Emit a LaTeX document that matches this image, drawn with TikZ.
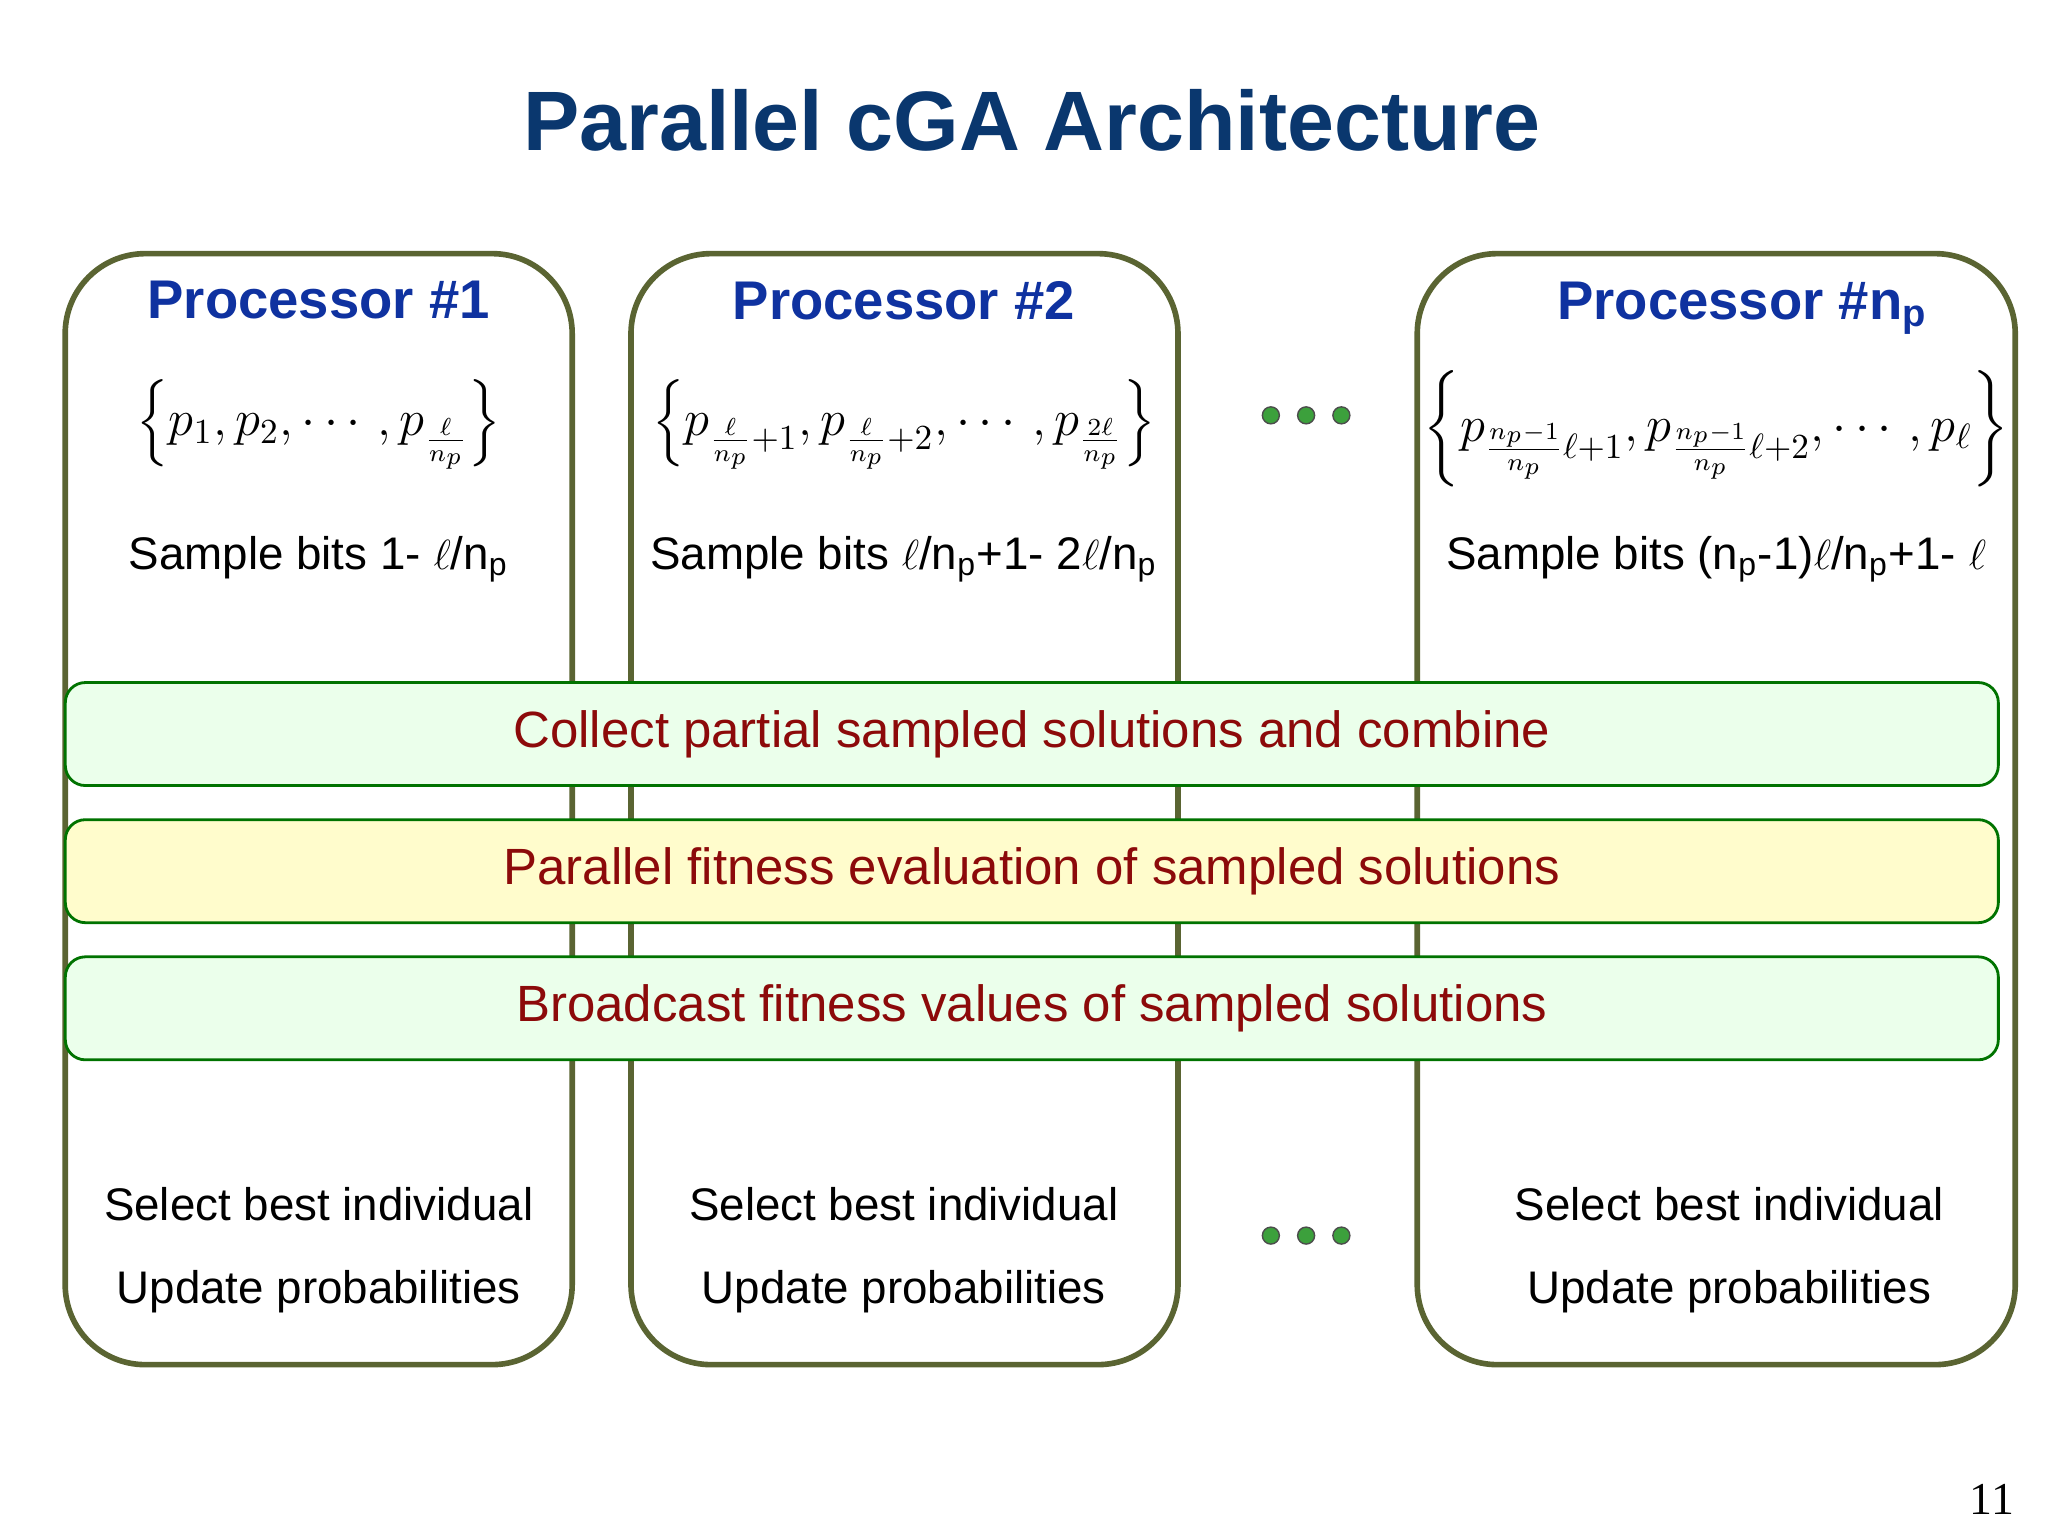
\documentclass[tikz,border=0pt]{standalone}
\usepackage{amsmath, amssymb}
\usepackage{fontspec}
\setmainfont{Liberation Sans}
\newfontfamily\pagefont{Liberation Serif}
\usepackage{xcolor}
\usetikzlibrary{positioning}
\definecolor{titleblue}{RGB}{10,55,110}
\definecolor{procblue}{RGB}{15,50,160}
\definecolor{bandred}{RGB}{140,10,10}
\definecolor{olive}{RGB}{90,100,50}
\definecolor{dotgreen}{RGB}{60,160,60}
\begin{document}
\begin{tikzpicture}[
x=0.01306cm, y=-0.01306cm,
proc/.style={draw=olive, line width=1.6pt, rounded corners=0.8cm, minimum height=11.11cm},
band/.style={draw=green!45!black, line width=0.8pt, rounded corners=0.2cm, minimum width=19.33cm, minimum height=1.03cm, font=\fontsize{14.5}{16}\selectfont, text=bandred},
head/.style={font=\fontsize{15.5}{18}\selectfont\bfseries, text=procblue},
body/.style={font=\fontsize{13}{15}\selectfont},
mth/.style={font=\fontsize{13.8}{16}\selectfont},
dot/.style={circle, fill=dotgreen, draw=black!70, inner sep=0pt, minimum size=0.17cm}
]
\fill[white] (0,0) rectangle (1568,1175);
\node[font=\fontsize{24}{29}\selectfont\bfseries, text=titleblue] (title) at (790,92) {Parallel cGA Architecture};

% ====== Processors ======
\node[proc, minimum width=5.07cm] (box1) at (244,619.5) {};
\node[proc, minimum width=5.47cm] (box2) at (692.5,619.5) {};
\node[proc, minimum width=5.98cm] (box3) at (1314,619.5) {};

\node[head] (head1) at (244,230) {Processor \#1};
\node[head] (head2) at (692,230) {Processor \#2};
\node[head] (head3) at (1334,236) {Processor \#n$_\text{p}$};

\node[mth] (set1) at (244,325) {$\left\{p_1,p_2,\cdots,p_{\frac{\ell}{n_p}}\right\}$};
\node[mth] (set2) at (692,325) {$\left\{p_{\frac{\ell}{n_p}+1},p_{\frac{\ell}{n_p}+2},\cdots,p_{\frac{2\ell}{n_p}}\right\}$};
\node[mth] (set3) at (1314,328) {$\left\{p_{\frac{n_p-1}{n_p}\ell+1},p_{\frac{n_p-1}{n_p}\ell+2},\cdots,p_\ell\right\}$};

\node[body] (bits1) at (244,428) {Sample bits 1- $\ell$/n$_\text{p}$};
\node[body] (bits2) at (692,428) {Sample bits $\ell$/n$_\text{p}$+1- 2$\ell$/n$_\text{p}$};
\node[body] (bits3) at (1314,428) {Sample bits (n$_\text{p}$-1)$\ell$/n$_\text{p}$+1- $\ell$};

\foreach \i/\x in {1/244, 2/692, 3/1324} {
  \node[body] (sel\i) at (\x,922) {Select best individual};
  \node[body] (upd\i) at (\x,989) {Update probabilities};
}

% ====== Bands ======
\node[band, fill=green!8] (collect) at (790,562) {Collect partial sampled solutions and combine};
\node[band, fill=yellow!20] (eval) at (790,667) {Parallel fitness evaluation of sampled solutions};
\node[band, fill=green!8] (bcast) at (790,772) {Broadcast fitness values of sampled solutions};

% ====== Dots ======
\foreach \x in {973,1000,1027} {
  \node[dot] (dt\x) at (\x,318) {};
  \node[dot] (db\x) at (\x,946) {};
}

\node[font=\fontsize{13}{15}\selectfont\pagefont] (page) at (1525,1148) {11};
\end{tikzpicture}
\end{document}
